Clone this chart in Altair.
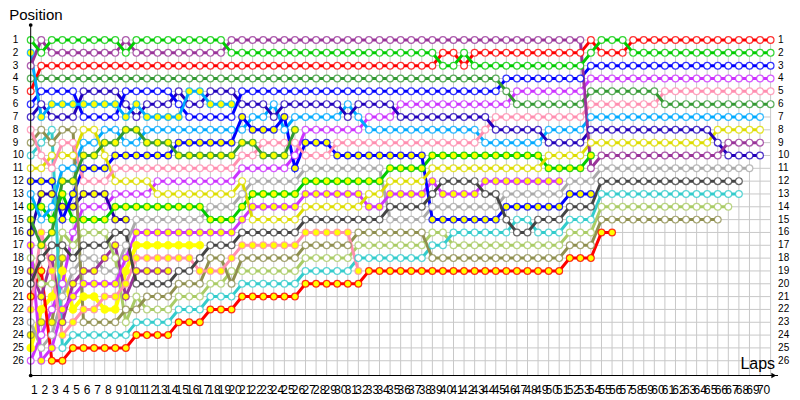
import altair as alt
import pandas as pd

# Each run: (first lap, last lap, position)
lime_w = [(0,0,1),(1,1,2),(2,8,1),(9,9,2),(10,18,1),(19,38,2),(39,40,3),(41,41,2),(42,52,3),(53,53,2),(54,56,1),(57,70,2)]
lime_y = [(0,1,14),(2,2,15),(3,3,13),(4,7,15),(8,16,14),(17,19,15),(20,20,14),(21,25,13),(26,33,12),(34,37,11),(38,48,10),(49,52,11),(53,53,10)]
sky_w = [(0,0,13),(1,1,15),(2,2,14),(3,4,11),(5,6,9),(7,8,8),(9,10,9),(11,20,8),(21,22,7),(23,23,6),(24,24,8),(25,29,7),(30,30,6),(31,31,7),(32,42,8),(43,48,9),(49,52,8),(53,69,7)]
sky_y = [(0,0,2),(1,1,7),(2,8,6),(9,9,7),(10,10,6),(11,14,7),(15,16,5),(17,19,6)]
purple_w = [(0,0,3),(1,1,1),(2,8,2),(9,9,1),(10,18,2),(19,52,1),(53,53,11),(54,65,10),(66,69,9)]
purple_y = [(0,0,19),(1,1,21),(2,2,18),(3,3,23),(4,4,20),(5,6,19),(7,7,18),(8,8,17),(9,9,21),(10,13,19)]
green_w = [(0,44,4),(45,45,5),(46,52,6),(53,59,5),(60,70,6)]
green_y = [(0,0,15),(1,1,17),(2,2,16),(3,4,12),(5,6,10),(7,8,9),(9,10,8),(11,13,9),(14,19,10),(20,21,9),(22,24,10),(25,25,8)]
red_w = [(0,0,5),(1,38,3),(39,40,2),(41,41,3),(42,52,2),(53,53,1),(54,56,2),(57,70,1)]
red_y = [(0,0,21),(1,1,19),(2,3,26),(4,9,25),(10,13,24),(14,16,23),(17,19,22),(20,25,21),(26,31,20),(32,50,19),(51,53,18),(54,55,16)]
blue_w = [(0,0,6),(1,4,5),(5,8,7),(9,13,5),(14,14,6),(15,19,7),(20,44,5),(45,52,4),(53,70,3)]
blue_y = [(0,2,12),(3,3,15),(4,4,13),(5,7,11),(8,13,10),(14,19,9),(20,20,7),(21,23,8),(24,24,7),(25,25,11),(26,28,9),(29,37,10),(38,44,15),(45,50,14),(51,53,13)]
indigo_w = [(0,0,7),(1,1,6),(2,4,7),(5,8,5),(9,9,6),(10,10,7),(11,13,6),(14,14,5),(15,16,6),(17,19,5),(20,22,6),(23,23,7),(24,29,6),(30,30,7),(31,34,6),(35,43,7),(44,48,8),(49,52,9),(53,64,8),(65,65,9),(66,69,10)]
indigo_y = [(0,0,16),(1,2,13),(3,4,14),(5,7,13),(8,9,15)]
pink_w = [(0,0,8),(1,1,10),(2,2,11),(3,4,9),(5,7,12),(8,19,11),(20,21,10),(22,25,9),(26,28,10),(29,42,9),(43,43,8),(44,52,7),(53,59,6),(60,70,5)]
pink_y = [(0,0,22),(1,1,16),(2,2,19),(3,3,24),(4,4,23),(5,6,22),(7,8,21),(9,9,20),(10,15,18),(16,18,19),(19,19,18),(20,25,17),(26,30,16),(31,31,19)]
olive_w = [(0,0,9),(1,1,8),(2,2,9),(3,4,8),(5,8,23),(9,10,22),(11,13,21),(14,16,20),(17,18,18),(19,19,20),(20,25,18),(26,30,17),(31,37,16),(38,50,18),(51,53,17),(54,65,15)]
olive_y = [(0,0,24),(1,2,23),(3,3,18)]
teal_w = [(0,0,10),(1,1,9),(2,2,8),(3,3,25),(4,9,24),(10,13,23),(14,16,22),(17,19,21),(20,25,20),(26,30,19),(31,37,18),(38,39,17),(40,45,16),(46,47,15),(48,50,16),(51,53,15),(54,67,13)]
sage_w = [(0,0,18),(1,2,20),(3,3,16),(4,4,17),(5,7,16),(8,8,18),(9,9,23),(10,10,21),(11,13,22),(14,16,21),(17,18,20),(19,25,19),(26,30,18),(31,37,17),(38,39,16),(40,50,17),(51,53,16),(54,66,14)]
gray_w = [(0,0,23),(1,1,25),(2,2,24),(3,3,21),(4,4,19),(5,6,18),(7,8,19),(9,9,17),(10,16,15),(17,19,14),(20,20,13),(21,25,12),(26,33,11),(34,37,15),(38,44,14),(45,50,13),(51,53,12),(54,68,11)]
dark_w = [(0,0,20),(1,1,18),(2,3,17),(4,4,18),(5,7,17),(8,9,16),(10,13,20),(14,15,19),(16,16,18),(17,19,17),(20,25,16),(26,33,15),(34,37,14),(38,38,13),(39,42,12),(43,44,13),(45,45,15),(46,47,16),(48,50,15),(51,53,14),(54,67,12)]
violet_w = [(0,0,26),(1,1,24),(2,2,22),(3,3,20),(4,4,16),(5,7,14),(8,11,13),(12,19,12),(20,24,11),(25,25,10),(26,31,8),(32,34,7),(35,45,6),(46,52,5),(53,70,4)]
violet_y = [(0,0,17),(1,1,26),(2,2,25),(3,3,22),(4,4,21),(5,8,20),(9,9,18),(10,19,16),(20,20,15),(21,25,14),(26,31,13),(32,33,14),(34,37,13),(38,38,12),(39,42,13),(43,50,12)]
yellow_w = [(0,1,11),(2,4,10),(5,6,8),(7,7,10),(8,11,12),(12,19,13),(20,20,12),(21,25,15),(26,31,14),(32,33,13),(34,37,12),(38,48,11),(49,52,10),(53,64,9),(65,69,8)]
yellow_y = [(0,0,25),(1,1,22),(2,2,21),(3,3,19),(4,4,22),(5,6,21),(7,8,22),(9,9,19),(10,16,17)]

series = [
    ("olive_y", olive_y, "#8f8f4f", "y", 3),
    ("yellow_y", yellow_y, "#ffff00", "y", 4),
    ("violet_w", violet_w, "#cc33ff", "w", 3),
    ("gray_w", gray_w, "#aaaaaa", "w", 3),
    ("red_y", red_y, "#ff0000", "y", 3),
    ("purple_y", purple_y, "#993399", "y", 3),
    ("sage_w", sage_w, "#aacc66", "w", 3),
    ("violet_y", violet_y, "#cc33ff", "y", 3),
    ("indigo_y", indigo_y, "#2200aa", "y", 3),
    ("lime_y", lime_y, "#00cc00", "y", 3),
    ("sky_w", sky_w, "#00aaff", "w", 3),
    ("blue_y", blue_y, "#0000ff", "y", 3),
    ("yellow_w", yellow_w, "#dddd00", "w", 3),
    ("teal_w", teal_w, "#33cccc", "w", 3),
    ("olive_w", olive_w, "#8f8f4f", "w", 3),
    ("pink_w", pink_w, "#ff8fb0", "w", 3),
    ("pink_y", pink_y, "#ff8fb0", "y", 3),
    ("dark_w", dark_w, "#444444", "w", 3),
    ("green_y", green_y, "#339933", "y", 3),
    ("indigo_w", indigo_w, "#2200bb", "w", 3),
    ("blue_w", blue_w, "#0000ff", "w", 3),
    ("red_w", red_w, "#ff0000", "w", 3),
    ("green_w", green_w, "#339933", "w", 3),
    ("sky_y", sky_y, "#00aaff", "y", 3),
    ("purple_w", purple_w, "#993399", "w", 3),
    ("lime_w", lime_w, "#00cc00", "w", 3),
]
laps = list(range(0, 71))
lap_labels = list(range(1, 71))
rows = list(range(1, 27))

records = []
for name, runs, color, fill, lw in series:
    for a, b, r in runs:
        for lap in range(a, b + 1):
            records.append(dict(series=name, lap=lap, row=r, fill=fill, lw=lw, size=56 if lw > 3 else 46))
df = pd.DataFrame(records)

names = [s[0] for s in series]
cols = [s[2] for s in series]
X = alt.Scale(domain=[0, 70.7], nice=False, zero=False)
Y = alt.Scale(domain=[-0.17, 27.15], reverse=True, nice=False, zero=False)
x = lambda f: alt.X(f, type="quantitative", scale=X, axis=None)
y = lambda f: alt.Y(f, type="quantitative", scale=Y, axis=None)
FONT = "Liberation Sans"

vgrid = alt.Chart(pd.DataFrame({"lap": laps})).mark_rule(color="#c8c8c8", strokeWidth=1).encode(
    x=x("lap"), y=alt.Y(datum=1, scale=Y, axis=None), y2=alt.Y2(datum=27.15))
hgrid = alt.Chart(pd.DataFrame({"row": rows})).mark_rule(color="#c8c8c8", strokeWidth=1).encode(
    y=y("row"), x=alt.X(datum=0, scale=X, axis=None), x2=alt.X2(datum=70))

lines = alt.Chart(df).mark_line(strokeCap="butt").encode(
    x=x("lap"), y=y("row"),
    stroke=alt.Stroke("series:N", scale=alt.Scale(domain=names, range=cols), legend=None),
    strokeWidth=alt.StrokeWidth("lw:Q", scale=None),
    order="lap:Q",
)
points = alt.Chart(df).mark_circle(opacity=1, strokeWidth=1.2, strokeOpacity=0.8).encode(
    x=x("lap"), y=y("row"),
    stroke=alt.Stroke("series:N", scale=alt.Scale(domain=names, range=cols), legend=None),
    fill=alt.Fill("fill:N", scale=alt.Scale(domain=["w", "y"], range=["#ffffff", "#ffff00"]), legend=None),
    size=alt.Size("size:Q", scale=None),
)

yaxis = alt.Chart(pd.DataFrame({"a": [0]})).mark_rule(color="#000000", strokeWidth=1).encode(
    x=alt.X(datum=0, scale=X, axis=None), y=alt.Y(datum=-0.17, scale=Y, axis=None), y2=alt.Y2(datum=27.15))
xaxis = alt.Chart(pd.DataFrame({"a": [0]})).mark_rule(color="#000000", strokeWidth=1).encode(
    y=alt.Y(datum=27.15, scale=Y, axis=None), x=alt.X(datum=0, scale=X, axis=None), x2=alt.X2(datum=70.7))
dot_top = alt.Chart(pd.DataFrame({"a": [0]})).mark_point(shape="circle", filled=True, color="#000000", size=14, opacity=1).encode(
    x=alt.X(datum=0, scale=X, axis=None), y=alt.Y(datum=-0.17, scale=Y, axis=None))
dot_bot = alt.Chart(pd.DataFrame({"a": [0]})).mark_point(shape="circle", filled=True, color="#000000", size=14, opacity=1).encode(
    x=alt.X(datum=0, scale=X, axis=None), y=alt.Y(datum=27.15, scale=Y, axis=None))
arrow = alt.Chart(pd.DataFrame({"a": [0]})).mark_point(shape="triangle-right", filled=True, color="#000000", size=30, opacity=1).encode(
    x=alt.X(datum=70.3, scale=X, axis=None), y=alt.Y(datum=27.15, scale=Y, axis=None))

rd = pd.DataFrame({"row": rows, "t": [str(r) for r in rows]})
left = alt.Chart(rd).mark_text(font=FONT, fontSize=10, align="left", baseline="middle", dx=-18, color="#000000").encode(
    x=alt.X(datum=0, scale=X, axis=None), y=y("row"), text="t:N")
right = alt.Chart(rd).mark_text(font=FONT, fontSize=10, align="left", baseline="middle", dx=7.5, color="#000000").encode(
    x=alt.X(datum=70, scale=X, axis=None), y=y("row"), text="t:N")
bottom = alt.Chart(pd.DataFrame({"lap": lap_labels, "t": [str(v) for v in lap_labels]})).mark_text(
    font=FONT, fontSize=12, align="center", baseline="middle", dx=-7, dy=14, color="#000000").encode(
    x=x("lap"), y=alt.Y(datum=27.15, scale=Y, axis=None), text="t:N")
pos_t = alt.Chart(pd.DataFrame({"t": ["Position"]})).mark_text(
    font=FONT, fontSize=15, align="left", baseline="middle", dx=-21.5, dy=-10, color="#000000").encode(
    x=alt.X(datum=0, scale=X, axis=None), y=alt.Y(datum=-0.17, scale=Y, axis=None), text="t:N")
lap_t = alt.Chart(pd.DataFrame({"t": ["Laps"]})).mark_text(
    font=FONT, fontSize=16, align="right", baseline="middle", dx=4.5, dy=-12, color="#000000").encode(
    x=alt.X(datum=70, scale=X, axis=None), y=alt.Y(datum=27.15, scale=Y, axis=None), text="t:N")

chart = alt.layer(vgrid, hgrid, lines, points, yaxis, xaxis, dot_top, dot_bot, arrow, left, right, bottom, pos_t, lap_t).properties(
    width=747.3, height=350.5,
    autosize=alt.AutoSizeParams(type="none"),
    padding={"left": 22.7, "top": 17, "right": 14, "bottom": 20},
    background="#ffffff",
).configure_view(stroke=None)
chart.save("out.html", embed_options={"renderer": "svg", "actions": False})
